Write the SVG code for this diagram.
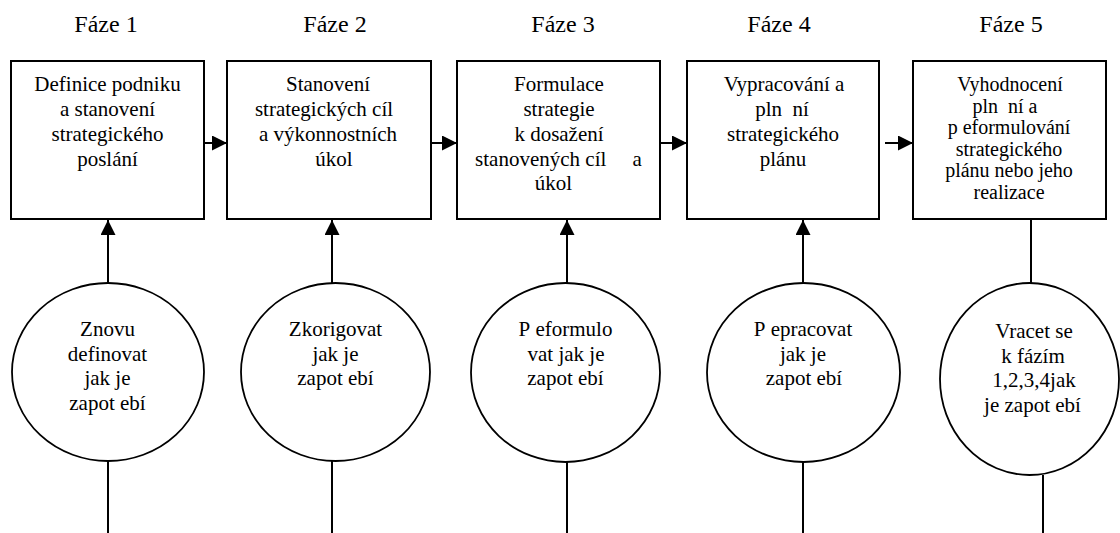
<svg xmlns="http://www.w3.org/2000/svg" width="1120" height="533" viewBox="0 0 1120 533">
<defs>
<style>
text{font-family:"Liberation Serif","Times New Roman",serif;font-size:21px;fill:#000;text-anchor:middle}
.h{font-size:24px}
.s{font-size:20px}
.box{fill:#fff;stroke:#000;stroke-width:2}
.ell{fill:#fff;stroke:#000;stroke-width:1.8}
.ln{stroke:#000;stroke-width:2;fill:none}
</style>
<marker id="ah" viewBox="0 0 15 15" refX="15" refY="7.5" markerWidth="15" markerHeight="15" markerUnits="userSpaceOnUse" orient="auto">
<path d="M0,0 L15,7.5 L0,15 Z" fill="#000"/>
</marker>
</defs>
<rect width="1120" height="533" fill="#fff"/>
<g id="headings">
<text class="h" x="106" y="32">Fáze 1</text>
<text class="h" x="335" y="32">Fáze 2</text>
<text class="h" x="563" y="32">Fáze 3</text>
<text class="h" x="779" y="32">Fáze 4</text>
<text class="h" x="1011" y="32">Fáze 5</text>
</g>
<g id="connectors">
<line class="ln" x1="204" y1="143" x2="227" y2="143" marker-end="url(#ah)"/>
<line class="ln" x1="431" y1="143" x2="457" y2="143" marker-end="url(#ah)"/>
<line class="ln" x1="660" y1="143" x2="687" y2="143" marker-end="url(#ah)"/>
<line class="ln" x1="885" y1="143" x2="913" y2="143" marker-end="url(#ah)"/>
<line class="ln" x1="108" y1="283" x2="108" y2="220" marker-end="url(#ah)"/>
<line class="ln" x1="332" y1="283" x2="332" y2="220" marker-end="url(#ah)"/>
<line class="ln" x1="567" y1="283" x2="567" y2="220" marker-end="url(#ah)"/>
<line class="ln" x1="803" y1="283" x2="803" y2="220" marker-end="url(#ah)"/>
<line class="ln" x1="1031" y1="219" x2="1031" y2="283"/>
<line class="ln" x1="108" y1="461" x2="108" y2="533"/>
<line class="ln" x1="332" y1="461" x2="332" y2="533"/>
<line class="ln" x1="567" y1="462" x2="567" y2="533"/>
<line class="ln" x1="803" y1="462" x2="803" y2="533"/>
<line class="ln" x1="1043" y1="475" x2="1043" y2="533"/>
</g>
<g id="box1">
<rect class="box" x="11" y="61" width="193" height="158"/>
<text x="107.5" y="91">Definice podniku</text>
<text x="107.5" y="116">a stanovení</text>
<text x="107.5" y="141">strategického</text>
<text x="107.5" y="166">poslání</text>
</g>
<g id="box2">
<rect class="box" x="227" y="61" width="204" height="158"/>
<text x="328" y="91">Stanovení</text>
<text x="324" y="116">strategických cíl</text>
<text x="328" y="141">a výkonnostních</text>
<text x="334" y="166">úkol</text>
</g>
<g id="box3">
<rect class="box" x="457" y="61" width="203" height="158"/>
<text x="559" y="91">Formulace</text>
<text x="559" y="116">strategie</text>
<text x="559" y="141">k dosažení</text>
<text x="558.5" y="166">stanovených cíl&#160;&#160;&#160;&#160;&#160;a</text>
<text x="553.5" y="190">úkol</text>
</g>
<g id="box4">
<rect class="box" x="687" y="61" width="192" height="158"/>
<text x="784" y="91">Vypracování a</text>
<text x="782" y="116">pln&#160;&#160;ní</text>
<text x="783" y="141">strategického</text>
<text x="783" y="166">plánu</text>
</g>
<g id="box5" class="s">
<rect class="box" x="913" y="61" width="193" height="158"/>
<text class="s" x="1010" y="91">Vyhodnocení</text>
<text class="s" x="1005" y="112.5">pln&#160;&#160;ní a</text>
<text class="s" x="1009" y="134">p&#160;eformulování</text>
<text class="s" x="1009" y="155.5">strategického</text>
<text class="s" x="1009" y="177">plánu nebo jeho</text>
<text class="s" x="1009" y="199">realizace</text>
</g>
<g id="circle1">
<ellipse class="ell" cx="108" cy="372" rx="96" ry="89"/>
<text x="107.5" y="336">Znovu</text>
<text x="107.5" y="360.5">definovat</text>
<text x="107.5" y="385">jak je</text>
<text x="107.5" y="410">zapot&#160;ebí</text>
</g>
<g id="circle2">
<ellipse class="ell" cx="335.5" cy="372" rx="94.5" ry="89"/>
<text x="335.5" y="336">Zkorigovat</text>
<text x="335.5" y="360.5">jak je</text>
<text x="335.5" y="385">zapot&#160;ebí</text>
</g>
<g id="circle3">
<ellipse class="ell" cx="565.5" cy="372.5" rx="94.5" ry="89.5"/>
<text x="565.5" y="336">P&#160;eformulo</text>
<text x="566" y="360.5">vat jak je</text>
<text x="565.5" y="385">zapot&#160;ebí</text>
</g>
<g id="circle4">
<ellipse class="ell" cx="803.5" cy="372.5" rx="96.5" ry="89.5"/>
<text x="803" y="336">P&#160;epracovat</text>
<text x="803" y="360.5">jak je</text>
<text x="804" y="385">zapot&#160;ebí</text>
</g>
<g id="circle5">
<ellipse class="ell" cx="1029.5" cy="379" rx="89.5" ry="96"/>
<text x="1034" y="338">Vracet se</text>
<text x="1033" y="362.5">k fázím</text>
<text x="1034" y="387">1,2,3,4jak</text>
<text x="1032.5" y="411.5">je zapot&#160;ebí</text>
</g>
</svg>
